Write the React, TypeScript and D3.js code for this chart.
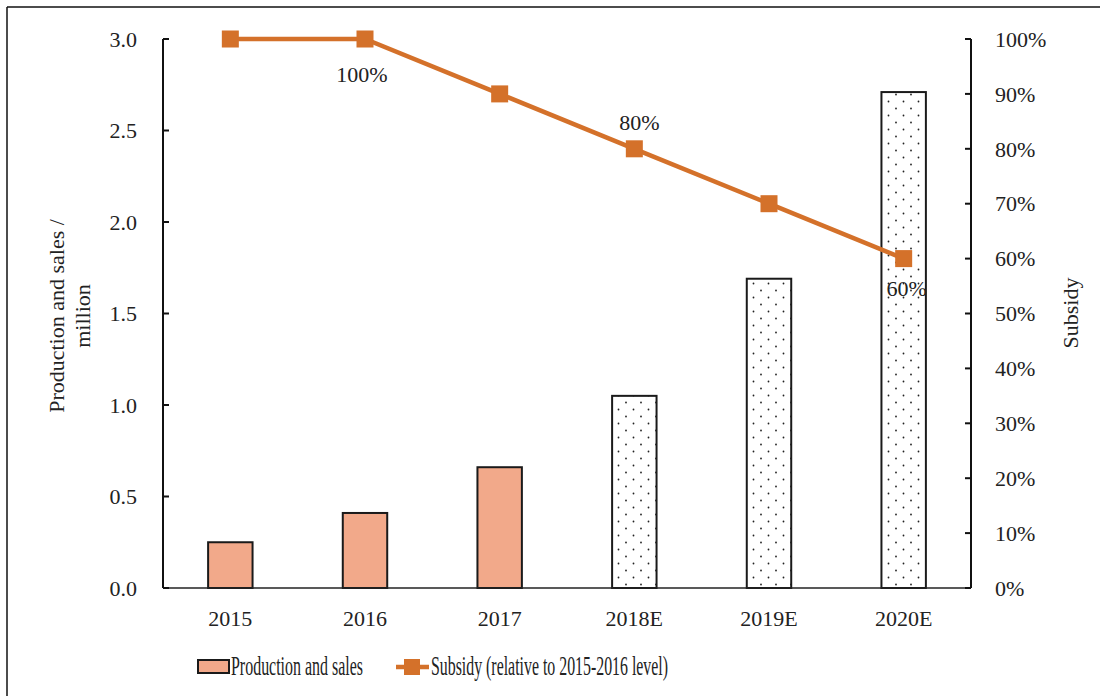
import React from "react";
import * as d3 from "d3";

const categories = ["2015", "2016", "2017", "2018E", "2019E", "2020E"];
const production = [0.25, 0.41, 0.66, 1.05, 1.69, 2.71];
const isEstimate = [false, false, false, true, true, true];
const subsidy = [1.0, 1.0, 0.9, 0.8, 0.7, 0.6];
const leftTicks = [0, 0.5, 1.0, 1.5, 2.0, 2.5, 3.0];
const rightTicks = [0, 0.1, 0.2, 0.3, 0.4, 0.5, 0.6, 0.7, 0.8, 0.9, 1.0];
const pointLabels = [
  { i: 1, text: "100%", dx: -3, dy: 43 },
  { i: 3, text: "80%", dx: 5, dy: -19 },
  { i: 5, text: "60%", dx: 3, dy: 37 },
];
const legendLabels = ["Production and sales", "Subsidy (relative to 2015-2016 level)"];

const W = 1100;
const H = 696;
const M = { left: 163, right: 971, top: 39, bottom: 588 };
const FONT = "'Liberation Serif', 'Times New Roman', serif";
const BAR_FILL = "#F2A98A";
const LINE = "#D4712A";
const FS = 22;
const LSX = 0.62;

export default function App() {
  const x = d3.scaleBand<string>().domain(categories).range([M.left, M.right]).paddingInner(0.67).paddingOuter(0.335);
  const yL = d3.scaleLinear().domain([0, 3]).range([M.bottom, M.top]);
  const yR = d3.scaleLinear().domain([0, 1]).range([M.bottom, M.top]);
  const cx = (c: string) => (x(c) as number) + x.bandwidth() / 2;
  const line = d3
    .line<number>()
    .x((_, i) => cx(categories[i]))
    .y((d) => yR(d));
  const pct = d3.format(".0%");

  return (
    <svg width={W} height={H} style={{ position: "absolute", left: 0, top: 0, background: "#fff" }} fontFamily={FONT}>
      <defs>
        <pattern id="dots" width={15} height={14} patternUnits="userSpaceOnUse">
          <rect width={15} height={14} fill="#fff" />
          <circle cx={3.5} cy={3.5} r={0.9} fill="#222" />
          <circle cx={11} cy={10.5} r={0.9} fill="#222" />
        </pattern>
      </defs>
      <rect x={0} y={0} width={W} height={H} fill="#fff" />
      {/* frame */}
      <line x1={7} y1={7} x2={W} y2={7} stroke="#111" strokeWidth={1.5} />
      <line x1={7} y1={7} x2={7} y2={H} stroke="#111" strokeWidth={1.5} />

      {/* bars */}
      {categories.map((c, i) => (
        <rect
          key={c}
          x={x(c)}
          y={yL(production[i])}
          width={x.bandwidth()}
          height={yL(0) - yL(production[i])}
          fill={isEstimate[i] ? "url(#dots)" : BAR_FILL}
          stroke="#1a1a1a"
          strokeWidth={2}
        />
      ))}

      {/* axes */}
      <line x1={M.left} y1={M.bottom} x2={M.right} y2={M.bottom} stroke="#222" strokeWidth={1.5} />
      <line x1={M.left} y1={M.top} x2={M.left} y2={M.bottom} stroke="#111" strokeWidth={2} />
      <line x1={M.right} y1={M.top} x2={M.right} y2={M.bottom} stroke="#111" strokeWidth={2} />
      {leftTicks.map((t) => (
        <g key={"l" + t}>
          <line x1={M.left} x2={M.left + 6} y1={yL(t)} y2={yL(t)} stroke="#111" strokeWidth={2} />
          <text x={137} y={yL(t)} dy="0.35em" textAnchor="end" fontSize={FS} fill="#222">
            {t.toFixed(1)}
          </text>
        </g>
      ))}
      {rightTicks.map((t) => (
        <g key={"r" + t}>
          <line x1={M.right - 6} x2={M.right} y1={yR(t)} y2={yR(t)} stroke="#111" strokeWidth={2} />
          <text x={995} y={yR(t)} dy="0.35em" textAnchor="start" fontSize={FS} fill="#222">
            {pct(t)}
          </text>
        </g>
      ))}
      {categories.map((c) => (
        <text key={"x" + c} x={cx(c)} y={626} textAnchor="middle" fontSize={FS} fill="#222">
          {c}
        </text>
      ))}

      {/* axis titles */}
      <text transform={`translate(64,${316}) rotate(-90)`} textAnchor="middle" fontSize={FS} fill="#222">
        Production and sales /
      </text>
      <text transform={`translate(90,${316}) rotate(-90)`} textAnchor="middle" fontSize={FS} fill="#222">
        million
      </text>
      <text transform={`translate(1078,${313}) rotate(-90)`} textAnchor="middle" fontSize={FS} fill="#222">
        Subsidy
      </text>

      {/* line */}
      <path d={line(subsidy) as string} fill="none" stroke={LINE} strokeWidth={4.5} />
      {subsidy.map((v, i) => (
        <rect key={"m" + i} x={cx(categories[i]) - 8.5} y={yR(v) - 8.5} width={17} height={17} fill={LINE} />
      ))}
      {pointLabels.map((p) => (
        <text
          key={"pl" + p.i}
          x={cx(categories[p.i]) + p.dx}
          y={yR(subsidy[p.i]) + p.dy}
          textAnchor="middle"
          fontSize={FS}
          fill="#222"
        >
          {p.text}
        </text>
      ))}

      {/* legend */}
      <rect x={198} y={660} width={31} height={13} fill={BAR_FILL} stroke="#1a1a1a" strokeWidth={2} />
      <g transform={`translate(231,675) scale(${LSX},1)`}>
        <text x={0} y={0} fontSize={27} fill="#222" textLength={132 / LSX} lengthAdjust="spacingAndGlyphs">
          {legendLabels[0]}
        </text>
      </g>
      <line x1={396} x2={429} y1={667} y2={667} stroke={LINE} strokeWidth={4.5} />
      <rect x={404} y={659} width={16} height={16} fill={LINE} />
      <g transform={`translate(431,675) scale(${LSX},1)`}>
        <text x={0} y={0} fontSize={27} fill="#222" textLength={237 / LSX} lengthAdjust="spacingAndGlyphs">
          {legendLabels[1]}
        </text>
      </g>
    </svg>
  );
}
